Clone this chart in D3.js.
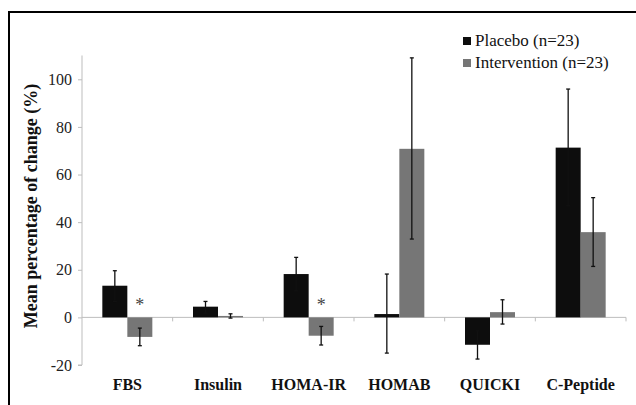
<!DOCTYPE html>
<html><head><meta charset="utf-8">
<script src="https://cdn.jsdelivr.net/npm/d3@7"></script>
<style>body{margin:0;background:#fff}svg{display:block}svg text{font-family:"Liberation Serif","Times New Roman",Times,serif}</style>
</head><body>
<script>
const categories = ["FBS","Insulin","HOMA-IR","HOMAB","QUICKI","C-Peptide"];
const seriesNames = ["Placebo (n=23)","Intervention (n=23)"];
const placebo = [13.3, 4.5, 18.2, 1.4, -11.5, 71.3];
const placeboLow = [6.7, 1.8, 11.2, -15, -17.5, 46.9];
const placeboHigh = [19.6, 6.7, 25.2, 18.2, -5.6, 95.9];
const intervention = [-8.2, 0.6, -7.7, 70.8, 2.2, 35.8];
const interventionLow = [-11.9, -0.3, -11.6, 32.9, -2.8, 21.4];
const interventionHigh = [-4.5, 1.5, -3.8, 109, 7.4, 50.3];
const significant = [true, false, true, false, false, false];
const yTicks = [-20, 0, 20, 40, 60, 80, 100];

const W = 636, H = 405;
const svg = d3.select("body").append("svg").attr("width", W).attr("height", H);

// frame
svg.append("path").attr("d", `M9,${H+5} V12 H${W+5}`).attr("fill","none").attr("stroke","#000").attr("stroke-width",2);

const x0 = 82, x1 = 626;
const y = d3.scaleLinear().domain([-20, 100]).range([365, 79.3]);
const x = d3.scaleBand().domain(categories).range([x0, x1]).paddingInner(0).paddingOuter(0);
const xs = d3.scaleBand().domain([0,1]).range([0, 50]);
const groupOffset = (x.bandwidth() - 50) / 2;
const colors = ["#0d0d0d", "#767676"];

// y axis
const yAxis = svg.append("g").attr("transform", `translate(${x0},0)`)
  .call(d3.axisLeft(y).tickValues(yTicks).tickFormat(d => String(d)).tickSize(4).tickPadding(6));
yAxis.attr("font-family", null);
yAxis.select(".domain").attr("d", `M-4,${y(-20)}H0V${y(110)}`).attr("stroke","#bdbdbd");
yAxis.selectAll(".tick line").attr("stroke","#bdbdbd");
yAxis.selectAll("text").attr("font-size", 16).attr("fill","#222");

// x axis line at zero
const xAxis = svg.append("g").attr("transform", `translate(0,${y(0)})`);
xAxis.append("line").attr("x1", x0).attr("x2", x1).attr("stroke","#bdbdbd");
const bounds = categories.slice(1).map(c => x(c)).concat([x1]);
xAxis.selectAll("line.tk").data(bounds).enter().append("line").attr("class","tk")
  .attr("x1", d=>d).attr("x2", d=>d).attr("y1",0).attr("y2",4).attr("stroke","#bdbdbd");

// bars
const series = [
  {vals: placebo, lo: placeboLow, hi: placeboHigh},
  {vals: intervention, lo: interventionLow, hi: interventionHigh}
];
series.forEach((s, si) => {
  const g = svg.append("g");
  g.selectAll("rect").data(categories).enter().append("rect")
    .attr("x", c => x(c) + groupOffset + xs(si))
    .attr("width", xs.bandwidth())
    .attr("y", (c,i) => y(Math.max(0, s.vals[i])))
    .attr("height", (c,i) => Math.abs(y(s.vals[i]) - y(0)))
    .attr("fill", colors[si]);
  const eb = g.selectAll("g.eb").data(categories).enter().append("g").attr("class","eb");
  const cx = c => x(c) + groupOffset + xs(si) + xs.bandwidth()/2;
  eb.append("line").attr("x1", cx).attr("x2", cx)
    .attr("y1", (c,i)=>y(s.lo[i])).attr("y2", (c,i)=>y(s.hi[i]))
    .attr("stroke","#111").attr("stroke-width",1.3);
  [s.lo, s.hi].forEach(arr => {
    eb.append("line").attr("x1", c=>cx(c)-2).attr("x2", c=>cx(c)+2)
      .attr("y1", (c,i)=>y(arr[i])).attr("y2", (c,i)=>y(arr[i]))
      .attr("stroke","#111").attr("stroke-width",1.3);
  });
});

// asterisks
svg.selectAll("text.ast").data(categories.filter((c,i)=>significant[i])).enter().append("text")
  .attr("class","ast")
  .attr("x", c => x(c) + groupOffset + xs(1) + xs.bandwidth()/2)
  .attr("y", (c) => y(2.5))
  .attr("text-anchor","middle").attr("font-size", 18).attr("fill","#444")
  .text("*");

// x labels
svg.selectAll("text.xl").data(categories).enter().append("text").attr("class","xl")
  .attr("x", c => x(c) + x.bandwidth()/2).attr("y", 390)
  .attr("text-anchor","middle").attr("font-size", 16)
  .attr("font-weight","bold").attr("fill","#111").text(c=>c);

// y label
svg.append("text").attr("transform", `translate(37,206) rotate(-90)`)
  .attr("text-anchor","middle").attr("font-size", 18)
  .attr("font-weight","bold").attr("fill","#111").text("Mean percentage of change (%)");

// legend
const leg = svg.append("g");
seriesNames.forEach((n, i) => {
  const ly = 41 + i*22;
  leg.append("rect").attr("x", 463).attr("y", ly-4).attr("width",8).attr("height",8).attr("fill", colors[i]);
  leg.append("text").attr("x", 475).attr("y", ly+5).attr("font-size", 17)
    .attr("fill","#111").text(n);
});
</script>
</body></html>
